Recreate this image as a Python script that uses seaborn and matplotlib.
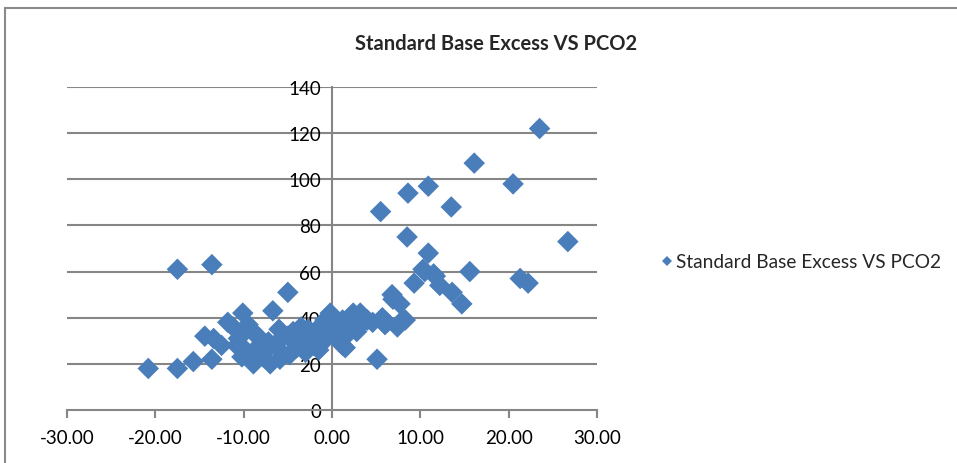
import matplotlib
matplotlib.use("Agg")
import matplotlib.pyplot as plt
import seaborn as sns
import pandas as pd
from matplotlib.patches import Rectangle

# ---- data ----
base_excess = [
    -20.8, -17.5, -17.5, -13.6, -15.7, -13.6, -14.4, -13.4, -12.5, -11.8,
    -10.1, -11.2, -9.6, -6.7, -10.2, -8.9, -7.0, -5.9, -10.8, -8.2,
    -7.4, -4.4, -5.0, -9.5, -10.6, -8.4, -7.2, -9.5, -5.7, -3.8,
    -1.9, -0.8, -2.7, -5.0, -0.2, -1.4, 1.2, 2.4, 3.5, 4.6,
    6.2, 7.4, 8.0, 6.9, 1.2, -1.0, 2.8, 5.1, -2.5, -2.1,
    1.5, 3.2, 4.0, 5.7, 6.0, 7.7, 6.8, 8.3, 9.3, 10.5,
    11.5, 12.2, 13.6, 14.7, 15.6, 10.3, 11.7, 21.3, 22.2, 26.7,
    10.9, 8.5, 5.5, 8.6, 10.9, 13.5, 16.1, 20.5, 23.5,
    -6.0, -4.0, -3.0, -2.0, -1.0, 0.0, 0.5, 1.0, -3.5, -6.5,
    -4.8, -8.5, -9.0, -6.0, -3.0, -1.5, 0.8, 2.0, 3.0, -0.5,
    1.8, -9.8, -7.8, -2.5,
]
pco2 = [
    18, 18, 61, 63, 21, 22, 32, 31, 28, 38,
    42, 36, 36, 43, 23, 20, 20, 22, 28, 31,
    26, 34, 51, 37, 31, 32, 29.5, 23, 25, 29.5,
    34, 39, 35, 32, 42, 36, 39, 42, 39, 38,
    38, 36, 39, 48, 28, 29.5, 34, 22, 34, 28,
    27, 42, 39, 40, 37, 46, 50, 39, 55, 60,
    59, 54, 51, 46, 60, 61, 58, 57, 55, 73,
    68, 75, 86, 94, 97, 88, 107, 98, 122,
    30, 27, 31, 30, 33, 35, 32, 36, 36, 28,
    24, 27, 34, 35, 25, 26, 30, 37, 36, 38,
    33, 26, 23, 31,
]
series_name = "Standard Base Excess VS PCO2"
x_ticks = [-30, -20, -10, 0, 10, 20, 30]
y_ticks = [0, 20, 40, 60, 80, 100, 120, 140]

df = pd.DataFrame({"x": base_excess, "y": pco2, "s": series_name})

sns.set_style("white")
plt.rcParams["font.family"] = ["Lato", "DejaVu Sans"]

W, H = 957, 464
fig = plt.figure(figsize=(W / 100, H / 100), dpi=100)
ax = fig.add_axes([67 / W, 1 - 411 / H, (597 - 67) / W, (411 - 88) / H])

grid_c = "#868686"
for yv in y_ticks[1:]:
    ax.axhline(yv, color=grid_c, lw=1.5, zorder=0)

sns.scatterplot(data=df, x="x", y="y", hue="s", palette=["#4A7EBB"],
                marker="D", s=120, linewidth=0, ax=ax, zorder=3, legend=True)

ax.set_xlim(-30, 30)
ax.set_ylim(0, 140)
ax.set_xticks(x_ticks)
ax.set_xticklabels([f"{v:.2f}" for v in x_ticks])
ax.set_yticks(y_ticks)
ax.set_yticklabels([str(v) for v in y_ticks])
ax.set_xlabel("")
ax.set_ylabel("")

for s in ["top", "right"]:
    ax.spines[s].set_visible(False)
ax.spines["left"].set_position(("data", 0))
ax.spines["left"].set_color(grid_c)
ax.spines["left"].set_linewidth(1.5)
ax.spines["left"].set_zorder(1)
ax.spines["bottom"].set_color(grid_c)
ax.spines["bottom"].set_linewidth(1.5)
ax.tick_params(axis="x", direction="out", length=6, width=1.5, color=grid_c,
               labelsize=13.5, pad=8, labelcolor="black", bottom=True)
ax.tick_params(axis="y", length=0, labelsize=13.5, pad=8, labelcolor="black", left=True)
for lab in ax.get_yticklabels():
    lab.set_zorder(5)

leg = ax.legend(loc="center left", bbox_to_anchor=(660 / W, 1 - 263 / H),
                bbox_transform=fig.transFigure, frameon=False, fontsize=13.8,
                handletextpad=0.15, handlelength=0.7, markerscale=0.5,
                borderaxespad=0, borderpad=0)

fig.text(496 / W, 1 - 44 / H, "Standard Base Excess VS PCO2", ha="center",
         va="center", fontsize=14.5, fontweight="bold")

fig.patches.append(Rectangle((5 / W, -0.1), 1.2, 1 - 9 / H + 0.1,
                             transform=fig.transFigure, fill=False,
                             edgecolor="#8a8a8a", lw=1.5))

fig.savefig("out.png", dpi=100)
